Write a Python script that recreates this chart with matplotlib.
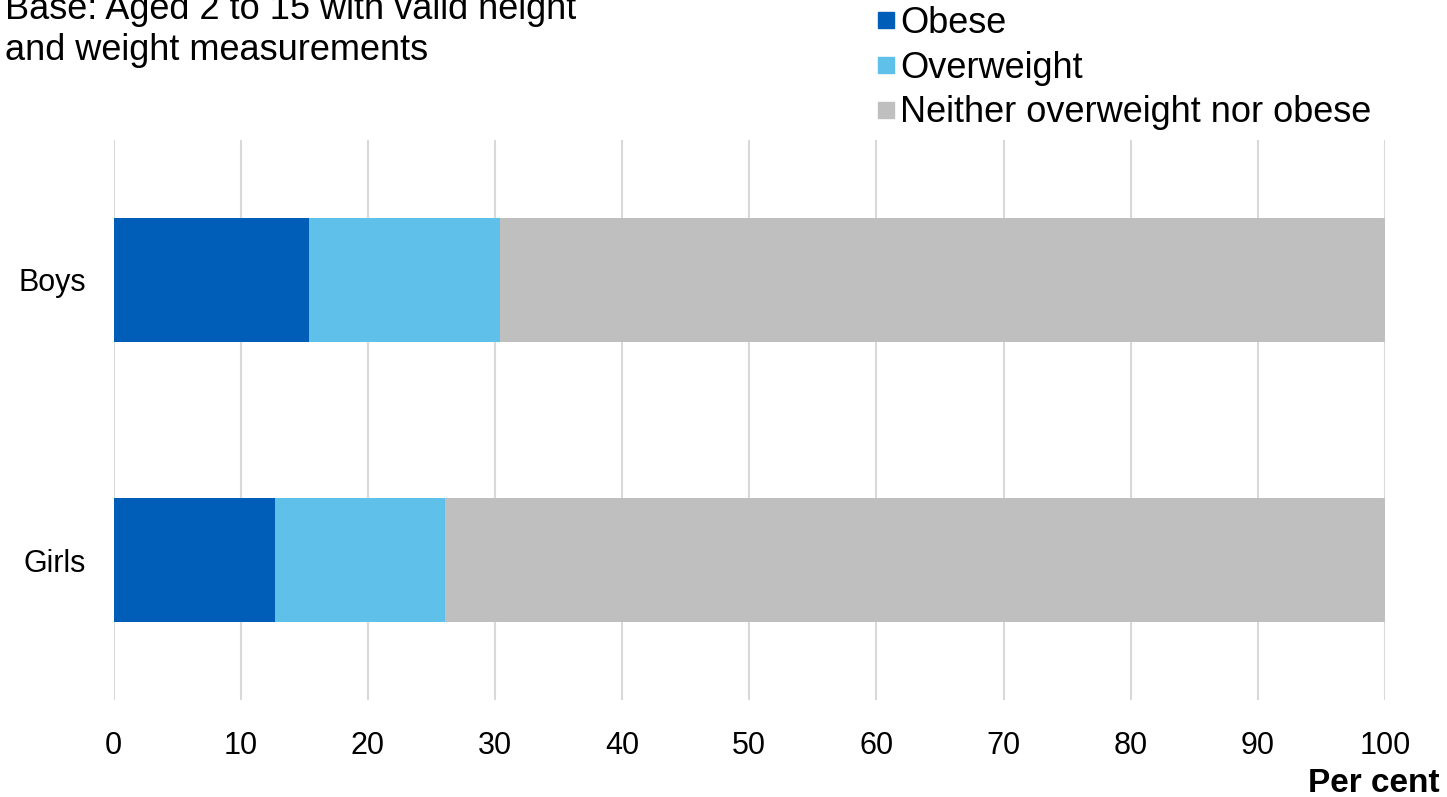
import matplotlib
matplotlib.use("Agg")
import matplotlib.pyplot as plt
from matplotlib.lines import Line2D

plt.rcParams['font.family'] = ['Liberation Sans', 'DejaVu Sans']

categories = ["Boys", "Girls"]
series_names = ["Obese", "Overweight", "Neither overweight nor obese"]
obese = [15.4, 12.7]
overweight = [15.0, 13.4]
neither = [69.6, 73.9]
colors = ["#005EB8", "#5FC1EA", "#BFBFBF"]
xticks = [0, 10, 20, 30, 40, 50, 60, 70, 80, 90, 100]

W, H = 1447, 797
fig = plt.figure(figsize=(W / 100, H / 100), dpi=100)
ax = fig.add_axes([113.5 / W, 1 - 700 / H, (1385 - 113.5) / W, (700 - 140) / H])

ypos = [1, 0]
left = [0, 0]
for vals, col in zip([obese, overweight, neither], colors):
    ax.barh(ypos, vals, left=left, height=0.44, color=col, zorder=3)
    left = [l + v for l, v in zip(left, vals)]

ax.set_xlim(0, 100)
ax.set_ylim(-0.5, 1.5)
ax.set_xticks(xticks)
ax.set_xticklabels([str(t) for t in xticks])
ax.set_yticks(ypos)
ax.set_yticklabels(categories)
ax.tick_params(axis='both', length=0, labelsize=22)
ax.tick_params(axis='x', pad=22)
ax.tick_params(axis='y', pad=20)
ax.grid(axis='x', color='#D9D9D9', linewidth=1.5, zorder=0)
for s in ax.spines.values():
    s.set_visible(False)

fig.text(5 / W, 1 - 19 / H, "Base: Aged 2 to 15 with valid height", fontsize=26, va='baseline', ha='left')
fig.text(5 / W, 1 - 60 / H, "and weight measurements", fontsize=26, va='baseline', ha='left')

handles = [Line2D([0], [0], marker='s', linestyle='none', markersize=12, markerfacecolor=c, markeredgecolor=c) for c in colors]
leg = fig.legend(handles, series_names, loc='upper left', bbox_to_anchor=(875 / W, 1 - 6 / H),
                 frameon=False, fontsize=26, handlelength=0.6, handletextpad=0.1,
                 labelspacing=0.27, borderaxespad=0, borderpad=0)

fig.text(1440 / W, 1 - 783 / H, "Per cent", fontsize=24, fontweight='bold', ha='right', va='center')

fig.savefig("out.png", dpi=100)
